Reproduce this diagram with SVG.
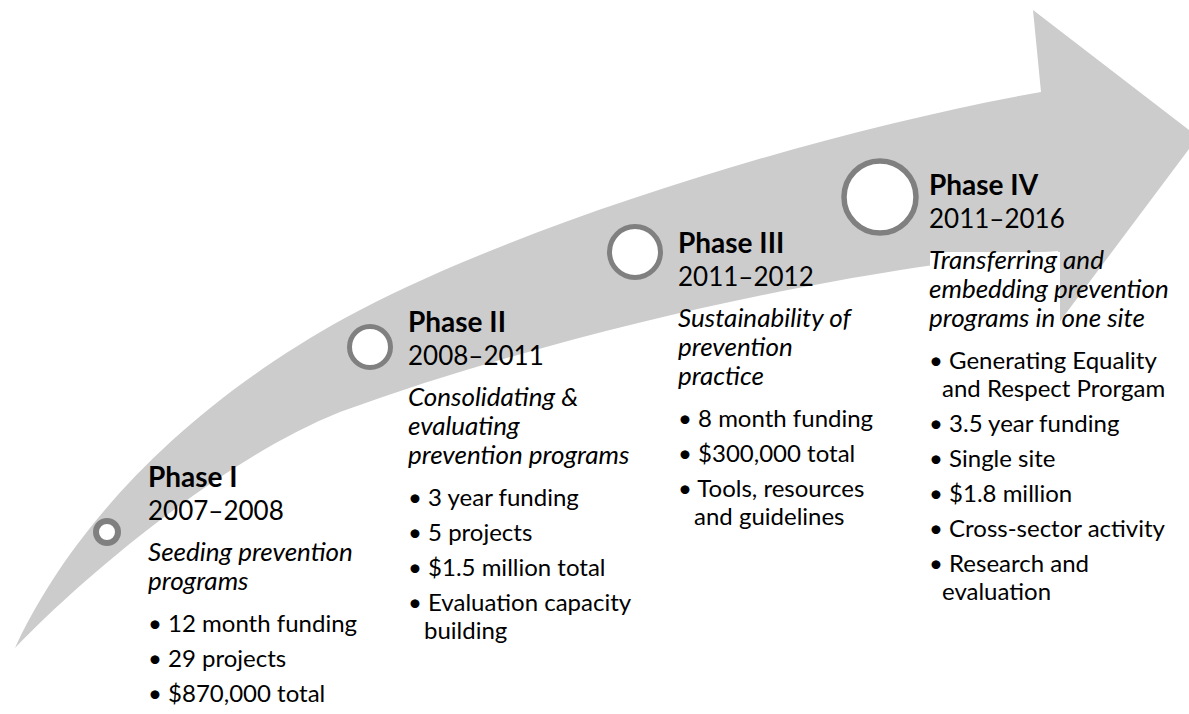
<svg xmlns="http://www.w3.org/2000/svg" width="1189" height="714" viewBox="0 0 1189 714">
<style>
text{font-family:Lato,"Liberation Sans",sans-serif;font-size:24px;fill:#000}
.t{font-weight:bold;font-size:28px}
.y{font-size:26px}
.d{font-style:italic;font-size:26px}
.c{fill:#fff;stroke:#808080}
</style>
<rect width="1189" height="714" fill="#fff"/>
<g id="arrow">
<path d="M15,648 C60,550 160,420 345,318 C500,233 800,135 1041,92 L1033,10 L1198,137 L1046,340 L1058,251 C900,262 600,318 340,412 C220,460 80,580 15,648 Z" fill="#cccccc"/>
</g>
<g id="phase1">
<circle class="c" cx="107" cy="532" r="11" stroke-width="6"/>
<text class="t" x="148" y="487">Phase I</text>
<text class="y" x="148" y="520">2007–2008</text>
<text class="d" x="148" y="561">Seeding prevention</text>
<text class="d" x="148" y="590">programs</text>
<text x="148" y="632">• 12 month funding</text>
<text x="148" y="667">• 29 projects</text>
<text x="148" y="702">• $870,000 total</text>
</g>
<g id="phase2">
<circle class="c" cx="370" cy="347" r="20.5" stroke-width="5"/>
<text class="t" x="408" y="332">Phase II</text>
<text class="y" x="408" y="365">2008–2011</text>
<text class="d" x="408" y="406">Consolidating &amp;</text>
<text class="d" x="408" y="435">evaluating</text>
<text class="d" x="408" y="464">prevention programs</text>
<text x="408" y="506">• 3 year funding</text>
<text x="408" y="541">• 5 projects</text>
<text x="408" y="576">• $1.5 million total</text>
<text x="408" y="611">• Evaluation capacity</text>
<text x="424" y="639">building</text>
</g>
<g id="phase3">
<circle class="c" cx="635" cy="252" r="25.5" stroke-width="5"/>
<text class="t" x="678" y="253">Phase III</text>
<text class="y" x="678" y="286">2011–2012</text>
<text class="d" x="678" y="327">Sustainability of</text>
<text class="d" x="678" y="356">prevention</text>
<text class="d" x="678" y="385">practice</text>
<text x="678" y="427">• 8 month funding</text>
<text x="678" y="462">• $300,000 total</text>
<text x="678" y="497">• Tools, resources</text>
<text x="694" y="525">and guidelines</text>
</g>
<g id="phase4">
<rect x="930" y="252" width="130" height="360" fill="#fff"/>
<circle class="c" cx="880" cy="197" r="36" stroke-width="5.5"/>
<text class="t" x="929" y="195">Phase IV</text>
<text class="y" x="929" y="228">2011–2016</text>
<text class="d" x="929" y="269">Transferring and</text>
<text class="d" x="929" y="298">embedding prevention</text>
<text class="d" x="929" y="327">programs in one site</text>
<text x="929" y="369">• Generating Equality</text>
<text x="942" y="397">and Respect Prorgam</text>
<text x="929" y="432">• 3.5 year funding</text>
<text x="929" y="467">• Single site</text>
<text x="929" y="502">• $1.8 million</text>
<text x="929" y="537">• Cross-sector activity</text>
<text x="929" y="572">• Research and</text>
<text x="942" y="600">evaluation</text>
</g>
</svg>
